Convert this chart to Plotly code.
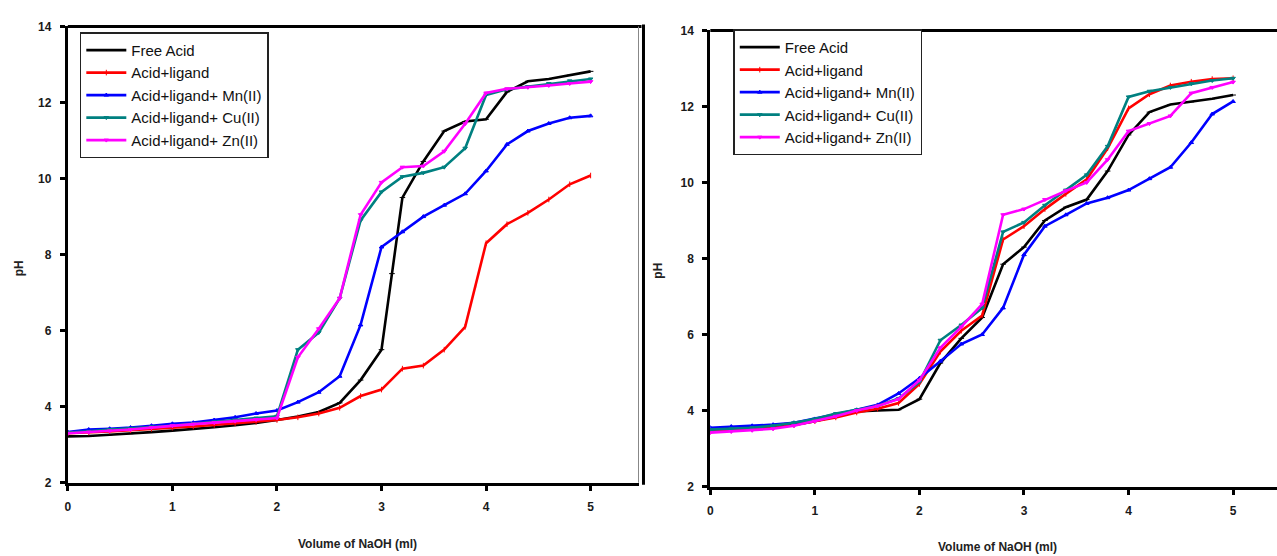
import plotly.graph_objects as go

W, H = 1277, 556

# ---------------- data ----------------
X_STD = [0, 0.2, 0.4, 0.6, 0.8, 1.0, 1.2, 1.4, 1.6, 1.8, 2.0, 2.2, 2.4, 2.6, 2.8,
         3.0, 3.2, 3.4, 3.6, 3.8, 4.0, 4.2, 4.4, 4.6, 4.8, 5.0]

series_names = ["Free Acid", "Acid+ligand", "Acid+ligand+ Mn(II)",
                "Acid+ligand+ Cu(II)", "Acid+ligand+ Zn(II)"]
series_colors = ["#000000", "#ff0000", "#0000ff", "#008080", "#ff00ff"]
series_symbols = ["line-ew", "line-ns", "triangle-up", "triangle-down", "triangle-down"]

# left panel
LX_FREE = [0, 0.2, 0.4, 0.6, 0.8, 1.0, 1.2, 1.4, 1.6, 1.8, 2.0, 2.2, 2.4, 2.6, 2.8,
           3.0, 3.1, 3.2, 3.4, 3.6, 3.8, 4.0, 4.2, 4.4, 4.6, 4.8, 5.0]
L_FREE = [3.22, 3.23, 3.26, 3.29, 3.33, 3.37, 3.41, 3.46, 3.51, 3.57, 3.65, 3.74, 3.86,
          4.1, 4.7, 5.5, 7.5, 9.5, 10.45, 11.25, 11.5, 11.56, 12.28, 12.56, 12.62, 12.72, 12.82]
LX_LIG = [0, 0.2, 0.4, 0.6, 0.8, 1.0, 1.2, 1.4, 1.6, 1.8, 2.0, 2.2, 2.4, 2.6, 2.8,
          3.0, 3.2, 3.4, 3.6, 3.8, 3.9, 4.0, 4.2, 4.4, 4.6, 4.8, 5.0]
L_LIG = [3.3, 3.32, 3.35, 3.38, 3.42, 3.45, 3.48, 3.52, 3.56, 3.6, 3.65, 3.72, 3.82,
         3.97, 4.28, 4.45, 5.0, 5.08, 5.5, 6.1, 7.2, 8.3, 8.8, 9.1, 9.45, 9.85, 10.08]
L_MN = [3.33, 3.4, 3.42, 3.45, 3.5, 3.55, 3.58, 3.65, 3.72, 3.82, 3.9, 4.12, 4.38, 4.8,
        6.15, 8.2, 8.6, 9.0, 9.3, 9.6, 10.2, 10.9, 11.25, 11.45, 11.6, 11.65]
L_CU = [3.32, 3.35, 3.4, 3.43, 3.47, 3.5, 3.55, 3.6, 3.65, 3.7, 3.75, 5.5, 5.95, 6.85,
        8.9, 9.65, 10.05, 10.15, 10.3, 10.8, 12.2, 12.35, 12.42, 12.5, 12.57, 12.62]
L_ZN = [3.3, 3.33, 3.36, 3.4, 3.45, 3.5, 3.54, 3.58, 3.62, 3.66, 3.7, 5.3, 6.05, 6.85,
        9.05, 9.9, 10.3, 10.33, 10.72, 11.44, 12.25, 12.36, 12.4, 12.45, 12.5, 12.55]

# right panel
R_FREE = [3.48, 3.5, 3.52, 3.56, 3.62, 3.72, 3.85, 3.98, 4.0, 4.02, 4.3, 5.25, 5.9, 6.45,
          7.85, 8.3, 9.0, 9.35, 9.55, 10.3, 11.25, 11.85, 12.05, 12.12, 12.2, 12.3]
R_LIG = [3.45, 3.48, 3.52, 3.55, 3.62, 3.72, 3.82, 3.95, 4.05, 4.2, 4.7, 5.55, 6.1, 6.5,
         8.5, 8.85, 9.3, 9.7, 10.08, 10.9, 11.95, 12.32, 12.55, 12.65, 12.72, 12.74]
R_MN = [3.55, 3.58, 3.6, 3.63, 3.68, 3.78, 3.9, 4.02, 4.15, 4.45, 4.85, 5.3, 5.75, 6.0,
        6.7, 8.1, 8.85, 9.15, 9.45, 9.6, 9.8, 10.1, 10.4, 11.05, 11.8, 12.13]
R_CU = [3.5, 3.52, 3.55, 3.6, 3.68, 3.78, 3.92, 4.02, 4.12, 4.32, 4.75, 5.85, 6.25, 6.7,
        8.7, 8.95, 9.4, 9.8, 10.2, 10.95, 12.25, 12.4, 12.5, 12.6, 12.68, 12.74]
R_ZN = [3.42, 3.45, 3.48, 3.52, 3.6, 3.72, 3.85, 4.0, 4.12, 4.3, 4.8, 5.65, 6.2, 6.8,
        9.15, 9.3, 9.55, 9.78, 10.0, 10.6, 11.35, 11.55, 11.75, 12.35, 12.5, 12.64]

X_TICKS = [0, 1, 2, 3, 4, 5]
Y_TICKS = [2, 4, 6, 8, 10, 12, 14]
X_TITLE = "Volume of NaOH (ml)"
Y_TITLE = "pH"

left_x = [LX_FREE, LX_LIG, X_STD, X_STD, X_STD]
left_y = [L_FREE, L_LIG, L_MN, L_CU, L_ZN]
right_x = [X_STD] * 5
right_y = [R_FREE, R_LIG, R_MN, R_CU, R_ZN]

# ---------------- figure ----------------
FONT = "Liberation Sans, Arial, sans-serif"
fig = go.Figure()

for i in range(5):
    fig.add_trace(go.Scatter(
        x=left_x[i], y=left_y[i], name=series_names[i], mode="lines+markers",
        line=dict(color=series_colors[i], width=2.6),
        marker=dict(symbol=series_symbols[i], size=4, color=series_colors[i],
                    line=dict(color=series_colors[i], width=1)),
        xaxis="x", yaxis="y", legend="legend"))
for i in range(5):
    fig.add_trace(go.Scatter(
        x=right_x[i], y=right_y[i], name=series_names[i], mode="lines+markers",
        line=dict(color=series_colors[i], width=2.6),
        marker=dict(symbol=series_symbols[i], size=4, color=series_colors[i],
                    line=dict(color=series_colors[i], width=1)),
        xaxis="x2", yaxis="y2", legend="legend2"))

def px_x(p):
    return p / W

def px_y(p):
    return 1 - p / H

L_X0, L_X1, L_Y0, L_Y1 = 65, 637, 488, 20
R_X0, R_X1, R_Y0, R_Y1 = 709, 1277, 492, 24
UNIT = 104.8

tickfont = dict(family=FONT, size=12, color="#1a1a1a", weight="bold")
axis_common = dict(showgrid=False, zeroline=False, showline=True, linecolor="black",
                   linewidth=3, ticks="outside", ticklen=5, tickwidth=2.5,
                   tickcolor="black", tickfont=tickfont, ticklabelstandoff=6)

legfont = dict(family=FONT, size=15, color="#111111")
fig.update_layout(
    width=W, height=H, margin=dict(l=0, r=0, t=0, b=0),
    paper_bgcolor="white", plot_bgcolor="white",
    xaxis=dict(domain=[px_x(L_X0), px_x(L_X1)], range=[0, (L_X1 - L_X0) / UNIT],
               tickvals=X_TICKS, anchor="y", **axis_common),
    yaxis=dict(domain=[px_y(L_Y0), px_y(L_Y1)], range=[2, 14], tickvals=Y_TICKS,
               anchor="x", **axis_common),
    xaxis2=dict(domain=[px_x(R_X0), 1.0], range=[0, (R_X1 - R_X0) / UNIT],
                tickvals=X_TICKS, anchor="y2", **axis_common),
    yaxis2=dict(domain=[px_y(R_Y0), px_y(R_Y1)], range=[2, 14], tickvals=Y_TICKS,
                anchor="x2", **axis_common),
    legend=dict(x=px_x(77), y=px_y(26), xanchor="left", yanchor="top",
                bgcolor="white", bordercolor="#222222", borderwidth=1.5,
                font=legfont, tracegroupgap=0, itemwidth=40),
    legend2=dict(x=px_x(732), y=px_y(23), xanchor="left", yanchor="top",
                 bgcolor="white", bordercolor="#222222", borderwidth=1.5,
                 font=legfont, tracegroupgap=0, itemwidth=40),
    showlegend=True,
)

shapes = [
    dict(type="line", xref="paper", yref="paper", x0=px_x(L_X0), x1=px_x(640),
         y0=px_y(L_Y1), y1=px_y(L_Y1), line=dict(color="black", width=3)),
    dict(type="line", xref="paper", yref="paper", x0=px_x(R_X0), x1=1.0,
         y0=px_y(R_Y1), y1=px_y(R_Y1), line=dict(color="black", width=3)),
    dict(type="line", xref="paper", yref="paper", x0=px_x(L_X1), x1=px_x(L_X1),
         y0=px_y(L_Y0), y1=px_y(L_Y1), line=dict(color="#888888", width=1)),
    dict(type="line", xref="paper", yref="paper", x0=px_x(642), x1=px_x(642),
         y0=px_y(490), y1=px_y(18), line=dict(color="black", width=3)),
]
fig.update_layout(shapes=shapes)

titlefont = dict(family=FONT, size=12, color="#222222", weight="bold")
annotations = [
    dict(text=X_TITLE, x=px_x(355), y=px_y(551), xref="paper", yref="paper",
         showarrow=False, font=titlefont, xanchor="center", yanchor="middle"),
    dict(text=X_TITLE, x=px_x(997), y=px_y(554), xref="paper", yref="paper",
         showarrow=False, font=titlefont, xanchor="center", yanchor="middle"),
    dict(text=Y_TITLE, x=px_x(16), y=px_y(268), xref="paper", yref="paper",
         showarrow=False, font=titlefont, textangle=-90, xanchor="center", yanchor="middle"),
    dict(text=Y_TITLE, x=px_x(657), y=px_y(270), xref="paper", yref="paper",
         showarrow=False, font=titlefont, textangle=-90, xanchor="center", yanchor="middle"),
]
fig.update_layout(annotations=annotations)

fig.write_html("out.html", config={"displayModeBar": False},
               post_script="document.body.style.margin='0px';document.body.style.overflow='hidden';")
